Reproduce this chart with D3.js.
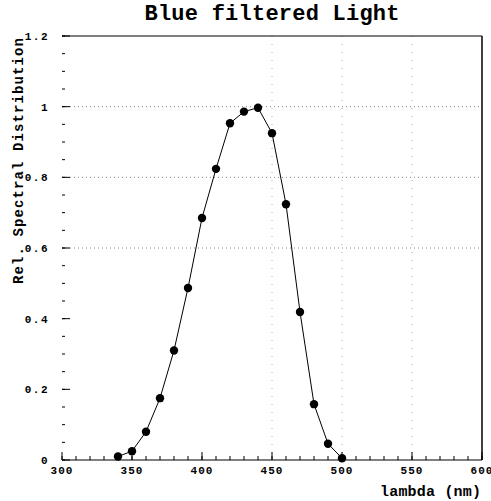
<!DOCTYPE html>
<html>
<head>
<meta charset="utf-8">
<title>Blue filtered Light</title>
<style>
  body { margin: 0; background: #fff; }
  text { font-family: "Liberation Mono", "DejaVu Sans Mono", monospace; font-weight: bold; fill: #000; }
</style>
</head>
<body>
<script src="https://d3js.org/d3.v7.min.js"></script>
<script>

// data
var wavelength = [340, 350, 360, 370, 380, 390, 400, 410, 420, 430, 440, 450, 460, 470, 480, 490, 500];
var intensity = [0.01, 0.025, 0.08, 0.175, 0.31, 0.487, 0.685, 0.824, 0.953, 0.986, 0.997, 0.925, 0.724, 0.419, 0.158, 0.046, 0.005];
var xTicks = [300, 350, 400, 450, 500, 550, 600];
var yTicks = [0, 0.2, 0.4, 0.6, 0.8, 1, 1.2];
var yGrid = [0.6, 0.8, 1];
var xGrid = [450, 500, 550];

var W = 491, H = 501;
var margin = { top: 36, right: 9, bottom: 41, left: 62 },
    width = W - margin.left - margin.right,
    height = H - margin.top - margin.bottom;

var svg = d3.select("body").append("svg")
    .attr("width", W)
    .attr("height", H);

var g = svg.append("g")
    .attr("transform", "translate(" + margin.left + "," + margin.top + ")");

var x = d3.scaleLinear().domain([300, 600]).range([0, width]);
var y = d3.scaleLinear().domain([0, 1.2]).range([height, 0]);

// dotted grid
g.selectAll(".hgrid").data(yGrid).enter().append("line")
    .attr("x1", 0).attr("x2", width)
    .attr("y1", function(d) { return y(d); })
    .attr("y2", function(d) { return y(d); })
    .attr("stroke", "#888").attr("stroke-width", 1)
    .attr("stroke-dasharray", "1,3");

g.selectAll(".vgrid").data(xGrid).enter().append("line")
    .attr("x1", function(d) { return x(d); })
    .attr("x2", function(d) { return x(d); })
    .attr("y1", 0).attr("y2", height)
    .attr("stroke", "#aaa").attr("stroke-width", 1)
    .attr("stroke-dasharray", "1,7");

// frame: top, right, bottom
g.append("line").attr("x1", 0).attr("x2", width).attr("y1", 0).attr("y2", 0)
    .attr("stroke", "#000").attr("stroke-width", 1.2);
g.append("line").attr("x1", width).attr("x2", width).attr("y1", 0).attr("y2", height)
    .attr("stroke", "#000").attr("stroke-width", 1.5);
g.append("line").attr("x1", 0).attr("x2", width).attr("y1", height).attr("y2", height)
    .attr("stroke", "#000").attr("stroke-width", 1.2);

// y ticks (inward) - major and minor
var yMinor = d3.range(0, 1.2001, 0.05);
g.selectAll(".ymin").data(yMinor).enter().append("line")
    .attr("x1", 0).attr("x2", 3)
    .attr("y1", function(d) { return y(d); })
    .attr("y2", function(d) { return y(d); })
    .attr("stroke", "#000").attr("stroke-width", 1);
g.selectAll(".ymaj").data(yTicks).enter().append("line")
    .attr("x1", 0).attr("x2", 8)
    .attr("y1", function(d) { return y(d); })
    .attr("y2", function(d) { return y(d); })
    .attr("stroke", "#000").attr("stroke-width", 1);

// x ticks (inward)
var xMinor = d3.range(300, 601, 10);
g.selectAll(".xmin").data(xMinor).enter().append("line")
    .attr("x1", function(d) { return x(d); })
    .attr("x2", function(d) { return x(d); })
    .attr("y1", height).attr("y2", height - 4)
    .attr("stroke", "#000").attr("stroke-width", 1);
g.selectAll(".xmaj").data(xTicks).enter().append("line")
    .attr("x1", function(d) { return x(d); })
    .attr("x2", function(d) { return x(d); })
    .attr("y1", height).attr("y2", height - 8)
    .attr("stroke", "#000").attr("stroke-width", 1);

// tick labels
g.selectAll(".ylab").data(yTicks).enter().append("text")
    .attr("x", -13)
    .attr("y", function(d) { return y(d); })
    .attr("dy", "0.35em")
    .attr("text-anchor", "end")
    .style("font-size", "11px")
    .style("letter-spacing", "1.5px")
    .text(function(d) { return d === 0 || d === 1 ? String(d) : d.toFixed(1); });

g.selectAll(".xlab").data(xTicks).enter().append("text")
    .attr("x", function(d) { return x(d); })
    .attr("y", height + 14)
    .attr("text-anchor", "middle")
    .style("font-size", "11px")
    .style("letter-spacing", "1px")
    .text(function(d) { return d; });

// line and markers
var line = d3.line()
    .x(function(d, i) { return x(wavelength[i]); })
    .y(function(d) { return y(d); });

g.append("path")
    .datum(intensity)
    .attr("d", line)
    .attr("fill", "none")
    .attr("stroke", "#000")
    .attr("stroke-width", 1);

g.selectAll(".pt").data(intensity).enter().append("circle")
    .attr("cx", function(d, i) { return x(wavelength[i]); })
    .attr("cy", function(d) { return y(d); })
    .attr("r", 4.2)
    .attr("fill", "#000");

// title and axis titles
svg.append("text")
    .attr("x", 272).attr("y", 20)
    .attr("text-anchor", "middle")
    .style("font-size", "22px")
    .attr("textLength", 255)
    .text("Blue filtered Light");

svg.append("text")
    .attr("x", 481).attr("y", 496)
    .attr("text-anchor", "end")
    .style("font-size", "15px")
    .attr("textLength", 101)
    .text("lambda (nm)");

svg.append("text")
    .attr("transform", "translate(23,161) rotate(-90)")
    .attr("text-anchor", "middle")
    .style("font-size", "14px")
    .attr("textLength", 246)
    .text("Rel. Spectral Distribution");

</script>
</body>
</html>
